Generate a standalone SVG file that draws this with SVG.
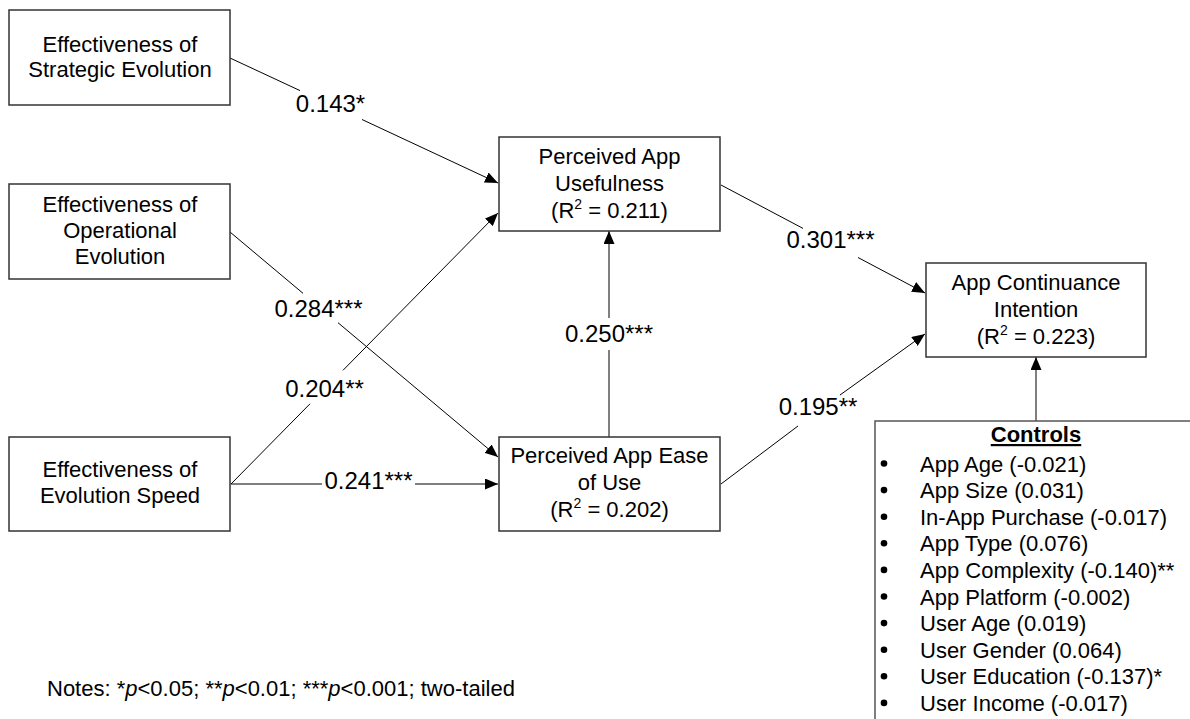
<svg xmlns="http://www.w3.org/2000/svg" width="1190" height="719" viewBox="0 0 1190 719">
<style>
  text { font-family: "Liberation Sans", Arial, sans-serif; fill: #000; }
  .node text { font-size: 22px; text-anchor: middle; }
  .box { fill: #fff; stroke: #333; stroke-width: 1.5; }
  .lbl { font-size: 24px; text-anchor: middle; }
  .conn { fill: none; stroke: #000; stroke-width: 1; }
  .ctl { font-size: 22px; }
  .sup { font-size: 14px; }
</style>
<defs>
  <marker id="arr" markerUnits="userSpaceOnUse" markerWidth="13" markerHeight="11" refX="13" refY="5.5" orient="auto">
    <path d="M0,0 L13,5.5 L0,11 z" fill="#000"/>
  </marker>
</defs>
<rect width="1190" height="719" fill="#fff"/>

<g id="connectors">
  <path class="conn" d="M230,58 L300,90.6 M362,119.5 L498,183" marker-end="url(#arr)"/>
  <path class="conn" d="M230,232 L303,293.3 M338,322.7 L498,457" marker-end="url(#arr)"/>
  <path class="conn" d="M231,484 L310,403.8 M343,370.3 L498,213" marker-end="url(#arr)"/>
  <path class="conn" d="M231,484 L322,484 M415,484 L498,484" marker-end="url(#arr)"/>
  <path class="conn" d="M609,437 L609,350 M609,318 L609,231" marker-end="url(#arr)"/>
  <path class="conn" d="M721,185 L803,228.4 M858,257.5 L925,293" marker-end="url(#arr)"/>
  <path class="conn" d="M721,484 L798,426 M840,395 L925,334" marker-end="url(#arr)"/>
  <path class="conn" d="M1036,421 L1036,357" marker-end="url(#arr)"/>
  <text class="lbl" x="330.5" y="112">0.143*</text>
  <text class="lbl" x="318.5" y="317">0.284***</text>
  <text class="lbl" x="324.5" y="397">0.204**</text>
  <text class="lbl" x="368.5" y="489">0.241***</text>
  <text class="lbl" x="609" y="342">0.250***</text>
  <text class="lbl" x="830.5" y="248">0.301***</text>
  <text class="lbl" x="818" y="415">0.195**</text>
</g>

<g id="node-strategic" class="node">
  <rect class="box" x="9" y="10" width="221" height="95"/>
  <text x="120" y="52">Effectiveness of</text>
  <text x="120" y="77">Strategic Evolution</text>
</g>
<g id="node-operational" class="node">
  <rect class="box" x="9" y="184" width="221" height="95"/>
  <text x="120" y="212">Effectiveness of</text>
  <text x="120" y="238">Operational</text>
  <text x="120" y="264">Evolution</text>
</g>
<g id="node-speed" class="node">
  <rect class="box" x="9" y="437" width="221" height="94"/>
  <text x="120" y="477">Effectiveness of</text>
  <text x="120" y="503">Evolution Speed</text>
</g>
<g id="node-usefulness" class="node">
  <rect class="box" x="499" y="137" width="221" height="94"/>
  <text x="609.5" y="164">Perceived App</text>
  <text x="609.5" y="191">Usefulness</text>
  <text x="609.5" y="218">(R<tspan class="sup" dy="-9">2</tspan><tspan dy="9"> = 0.211)</tspan></text>
</g>
<g id="node-ease" class="node">
  <rect class="box" x="499" y="437" width="221" height="94"/>
  <text x="609.5" y="463">Perceived App Ease</text>
  <text x="609.5" y="490">of Use</text>
  <text x="609.5" y="517">(R<tspan class="sup" dy="-9">2</tspan><tspan dy="9"> = 0.202)</tspan></text>
</g>
<g id="node-continuance" class="node">
  <rect class="box" x="926" y="263" width="220" height="94"/>
  <text x="1036" y="290">App Continuance</text>
  <text x="1036" y="317">Intention</text>
  <text x="1036" y="344">(R<tspan class="sup" dy="-9">2</tspan><tspan dy="9"> = 0.223)</tspan></text>
</g>
<g id="node-controls">
  <rect x="875" y="421" width="330" height="310" fill="#fff" stroke="#555" stroke-width="1.5"/>
  <text x="1036" y="442" font-size="22" font-weight="bold" text-anchor="middle" text-decoration="underline">Controls</text>
  <g fill="#000">
    <circle cx="884" cy="463.5" r="3.3"/>
    <circle cx="884" cy="490.1" r="3.3"/>
    <circle cx="884" cy="516.7" r="3.3"/>
    <circle cx="884" cy="543.3" r="3.3"/>
    <circle cx="884" cy="569.9" r="3.3"/>
    <circle cx="884" cy="596.5" r="3.3"/>
    <circle cx="884" cy="623.1" r="3.3"/>
    <circle cx="884" cy="649.7" r="3.3"/>
    <circle cx="884" cy="676.3" r="3.3"/>
    <circle cx="884" cy="702.9" r="3.3"/>
  </g>
  <text class="ctl" x="920" y="471.5">App Age (-0.021)</text>
  <text class="ctl" x="920" y="498.1">App Size (0.031)</text>
  <text class="ctl" x="920" y="524.7">In-App Purchase (-0.017)</text>
  <text class="ctl" x="920" y="551.3">App Type (0.076)</text>
  <text class="ctl" x="920" y="577.9">App Complexity (-0.140)**</text>
  <text class="ctl" x="920" y="604.5">App Platform (-0.002)</text>
  <text class="ctl" x="920" y="631.1">User Age (0.019)</text>
  <text class="ctl" x="920" y="657.7">User Gender (0.064)</text>
  <text class="ctl" x="920" y="684.3">User Education (-0.137)*</text>
  <text class="ctl" x="920" y="710.9">User Income (-0.017)</text>
</g>

<text x="47" y="696" font-size="22">Notes: *<tspan font-style="italic">p</tspan>&lt;0.05; **<tspan font-style="italic">p</tspan>&lt;0.01; ***<tspan font-style="italic">p</tspan>&lt;0.001; two-tailed</text>
</svg>
